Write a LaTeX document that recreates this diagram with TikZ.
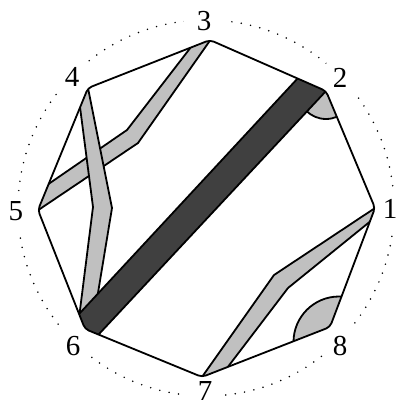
\documentclass[tikz,border=0pt]{standalone}
\usepackage{fontspec}
\setmainfont{Liberation Serif}
\usetikzlibrary{calc}
\definecolor{bandlight}{RGB}{192,192,192}
\definecolor{banddark}{RGB}{64,64,64}
\begin{document}
\begin{tikzpicture}[x=1pt,y=-1pt,line join=round,
  outline/.style={draw=black,line width=1.8pt},
  lightband/.style={outline,fill=bandlight},
  darkband/.style={outline,fill=banddark},
  lab/.style={circle,fill=white,minimum size=40pt,inner sep=0pt,font=\fontsize{29}{29}\selectfont},
  dots/.style={line width=1.7pt,line cap=round,dash pattern=on 0pt off 9.5pt}]
\useasboundingbox (0,0) rectangle (396,406);
\coordinate (O) at (206,208);
\coordinate (v1) at (375,208);
\coordinate (v2) at (326,91);
\coordinate (v3) at (210,40);
\coordinate (v4) at (88,88);
\coordinate (v5) at (38,210);
\coordinate (v6) at (85,329);
\coordinate (v7) at (202,377);
\coordinate (v8) at (330,327);
% dotted circle and labels
\draw[dots] (O) circle[radius=188];
\node[lab] (n1) at (390,209) {1};
\node[lab] (n2) at (340,78) {2};
\node[lab] (n3) at (204,21) {3};
\node[lab] (n4) at (72,77) {4};
\node[lab] (n5) at (16,211) {5};
\node[lab] (n6) at (73,346) {6};
\node[lab] (n7) at (205,391) {7};
\node[lab] (n8) at (340,346) {8};
% bands clipped to the octagon
\begin{scope}
\clip[rounded corners=4pt] ($(v1)!.5!(v2)$) -- (v2) -- (v3) -- (v4) -- (v5) -- (v6) -- (v7) -- (v8) -- (v1) -- cycle;
\filldraw[lightband] (198,38) -- (127,130) -- (34,194) -- (28,217) -- (138,143) -- (216,32) -- cycle;
\filldraw[lightband] (76.5,80) -- (93,207) -- (75.6,345) -- (89.4,345) -- (112,208) -- (86,78) -- cycle;
\filldraw[lightband] (385,201.4) -- (274,275) -- (192.8,390) -- (210.3,390) -- (288,288) -- (380,213.5) -- cycle;
\filldraw[lightband] (339,342) circle[radius=45.5];
\begin{scope}
\clip (v2) -- (72.9,362) -- (420,420) -- (420,91) -- cycle;
\filldraw[lightband] (v2) circle[radius=28];
\end{scope}
\filldraw[darkband] (324.2,49.8) -- (353.1,62) -- (72.9,362) -- (53.8,341.2) -- cycle;
\end{scope}
\draw[outline,rounded corners=4pt] ($(v1)!.5!(v2)$) -- (v2) -- (v3) -- (v4) -- (v5) -- (v6) -- (v7) -- (v8) -- (v1) -- cycle;
\end{tikzpicture}
\end{document}
